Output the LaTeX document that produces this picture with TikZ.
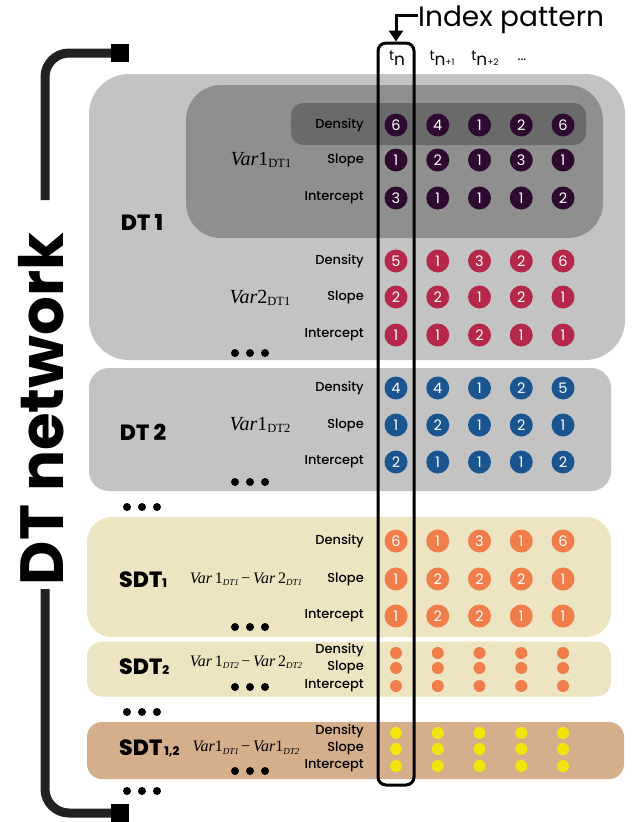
\documentclass[tikz,border=0pt]{standalone}
\usepackage{fontspec}
\setmainfont{Poppins}
\newfontfamily\tnr{Liberation Serif}
\newfontfamily\heavy{Poppins ExtraBold}
\newfontfamily\popmed{Poppins Medium}
\usetikzlibrary{arrows.meta}
\definecolor{outergray}{HTML}{C3C3C3}
\definecolor{innergray}{HTML}{8F8F8F}
\definecolor{bargray}{HTML}{6A6A6A}
\definecolor{beige}{HTML}{EDE4C1}
\definecolor{tan}{HTML}{D5AE8C}
\definecolor{cpurple}{HTML}{2E0A30}
\definecolor{ccrimson}{HTML}{B5284A}
\definecolor{cblue}{HTML}{1A5590}
\definecolor{corange}{HTML}{F07D4A}
\definecolor{cyellow}{HTML}{F2E40C}
\definecolor{bracketc}{HTML}{222222}
\newcommand\fs[1]{\fontsize{#1}{#1}\selectfont}
\newcommand\crow[4]{\foreach \v [count=\i] in {#4}{\pgfmathsetmacro\xx{354.25+41.75*\i}\node[numc=#3] (#1-\i) at (\xx,#2) {\v};}}
\newcommand\srow[3]{\foreach \i in {1,...,5}{\pgfmathsetmacro\xx{354.25+41.75*\i}\node[sdot=#3] (#1-\i) at (\xx,#2) {};}}
\newcommand\tdots[2]{\fill (#1-15,#2) circle[radius=4pt] (#1,#2) circle[radius=4pt] (#1+15,#2) circle[radius=4pt];}
\newcommand\vlab[3]{{\tnr\fs{20}\textit{Var}#1\raisebox{-0.3ex}{\fs{12.5}#2#3}}}
\newcommand\svlab[4]{{\tnr\fs{16}\textit{Var}\,#1\raisebox{-0.35ex}{\fs{9}\textit{#2}}\,−\,\textit{Var}\,#3\raisebox{-0.35ex}{\fs{9}\textit{#4}}}}
\begin{document}
\begin{tikzpicture}[x=1pt,y=-1pt,
  panel/.style={inner sep=0, draw=none},
  numc/.style={circle, fill=#1, minimum size=23, inner sep=0, text=white, font=\fs{14.5}},
  sdot/.style={circle, fill=#1, minimum size=12, inner sep=0},
  lab/.style={anchor=east, inner sep=0, font=\popmed\fs{13}},
  dtlab/.style={font=\heavy\fs{22}, inner sep=0},
  bracket/.style={draw=bracketc, line width=9, rounded corners=24},
  sq/.style={fill=black, minimum size=18, inner sep=0},
  hdr/.style={font=\fs{14}, inner sep=0}]
\useasboundingbox (0,0) rectangle (634,822);
\fill[white] (0,0) rectangle (634,822);

% panels
\node[panel, fill=outergray, minimum width=536, minimum height=286, rounded corners=40] (dt1) at (357,217) {};
\node[panel, fill=innergray, minimum width=417, minimum height=153, rounded corners=35] (v1dt1) at (394.5,161.5) {};
\node[panel, fill=bargray, minimum width=295, minimum height=42, rounded corners=12] (bar) at (438.5,124) {};
\node[panel, fill=outergray, minimum width=522, minimum height=123, rounded corners=20] (dt2) at (350,429.5) {};
\node[panel, fill=beige, minimum width=524, minimum height=120, rounded corners=25] (sdt1) at (349,577) {};
\node[panel, fill=beige, minimum width=524, minimum height=55, rounded corners=15] (sdt2) at (349,669) {};
\node[panel, fill=tan, minimum width=537, minimum height=57, rounded corners=15] (sdt12) at (355.5,750.5) {};

% bracket and title
\node[sq] (sqt) at (120,53) {};
\node[sq] (sqb) at (120,813) {};
\coordinate (bt) at (45,200);
\coordinate (bb) at (45,589);
\draw[bracket] (sqt.west) -| (bt);
\draw[bracket] (bb) |- (sqb.west);
\node[rotate=90, font=\bfseries\fs{61}, inner sep=0] (title) at (41,409) {DT network};

% DT labels
\node[dtlab] (ldt1) at (142,222) {DT 1};
\node[dtlab] (ldt2) at (143,432) {DT 2};
\node[dtlab, anchor=west] (lsdt1) at (119,580) {SDT{\fs{12}1}};
\node[dtlab, anchor=west] (lsdt2) at (119,667) {SDT{\fs{12}2}};
\node[dtlab, anchor=west] (lsdt12) at (119,748) {SDT{\fs{12}\,1,2}};

% variable labels
\node[inner sep=0] (var1a) at (261,160) {\vlab{1}{DT}{1}};
\node[inner sep=0] (var2a) at (260,298) {\vlab{2}{DT}{1}};
\node[inner sep=0] (var1b) at (260,425) {\vlab{1}{DT}{2}};
\node[inner sep=0] (sv1) at (246,579) {\svlab{1}{DT1}{2}{DT1}};
\node[inner sep=0] (sv2) at (246,662) {\svlab{1}{DT2}{2}{DT2}};
\node[inner sep=0] (sv12) at (246,748) {{\tnr\fs{16}\textit{Var}1\raisebox{-0.35ex}{\fs{9}\textit{DT1}}\,−\,\textit{Var}1\raisebox{-0.35ex}{\fs{9}\textit{DT2}}}};

% row labels
\node[lab] (la1) at (364,125) {Density};
\node[lab] (la2) at (364,160) {Slope};
\node[lab] (la3) at (364,198) {Intercept};
\node[lab] (lb1) at (364,261) {Density};
\node[lab] (lb2) at (364,297) {Slope};
\node[lab] (lb3) at (364,335) {Intercept};
\node[lab] (lc1) at (364,388) {Density};
\node[lab] (lc2) at (364,425) {Slope};
\node[lab] (lc3) at (364,462) {Intercept};
\node[lab] (ld1) at (364,541) {Density};
\node[lab] (ld2) at (364,579) {Slope};
\node[lab] (ld3) at (364,616) {Intercept};
\node[lab] (le1) at (364,650) {Density};
\node[lab] (le2) at (364,667) {Slope};
\node[lab] (le3) at (364,686) {Intercept};
\node[lab] (lf1) at (364,731) {Density};
\node[lab] (lf2) at (364,748) {Slope};
\node[lab] (lf3) at (364,766) {Intercept};

% circles
\crow{a1}{125}{cpurple}{6,4,1,2,6}
\crow{a2}{160}{cpurple}{1,2,1,3,1}
\crow{a3}{198}{cpurple}{3,1,1,1,2}
\crow{b1}{261}{ccrimson}{5,1,3,2,6}
\crow{b2}{297}{ccrimson}{2,2,1,2,1}
\crow{b3}{335}{ccrimson}{1,1,2,1,1}
\crow{c1}{388}{cblue}{4,4,1,2,5}
\crow{c2}{425}{cblue}{1,2,1,2,1}
\crow{c3}{462}{cblue}{2,1,1,1,2}
\crow{d1}{541}{corange}{6,1,3,1,6}
\crow{d2}{579}{corange}{1,2,2,2,1}
\crow{d3}{616}{corange}{1,2,2,1,1}
\srow{e1}{653}{corange}
\srow{e2}{668}{corange}
\srow{e3}{686}{corange}
\srow{f1}{733}{cyellow}
\srow{f2}{749}{cyellow}
\srow{f3}{766}{cyellow}

% ellipsis dots
\tdots{250}{353}
\tdots{250}{482}
\tdots{142}{507}
\tdots{250}{627}
\tdots{250}{687}
\tdots{142}{712}
\tdots{250}{771}
\tdots{142}{791}

% headers
\node[hdr] (h1) at (397,58) {t\raisebox{-5pt}{\fs{17}n}};
\node[hdr] (h2) at (442,58) {t\raisebox{-5pt}{\fs{17}n{\fs{9}+1}}};
\node[hdr] (h3) at (485,58) {t\raisebox{-5pt}{\fs{17}n{\fs{9}+2}}};
\node[hdr] (h4) at (522,60) {\fs{14}...};

% index pattern
\node[draw=black, line width=3, rounded corners=8, minimum width=36, minimum height=742, inner sep=0] (idx) at (396,414) {};
\node[font=\fs{28}, anchor=west, inner sep=0] (ip) at (418,20) {Index pattern};
\draw[line width=3, -{Triangle[width=14pt,length=11pt]}] ([yshift=5pt]ip.west) -| (idx.north);
\end{tikzpicture}
\end{document}
